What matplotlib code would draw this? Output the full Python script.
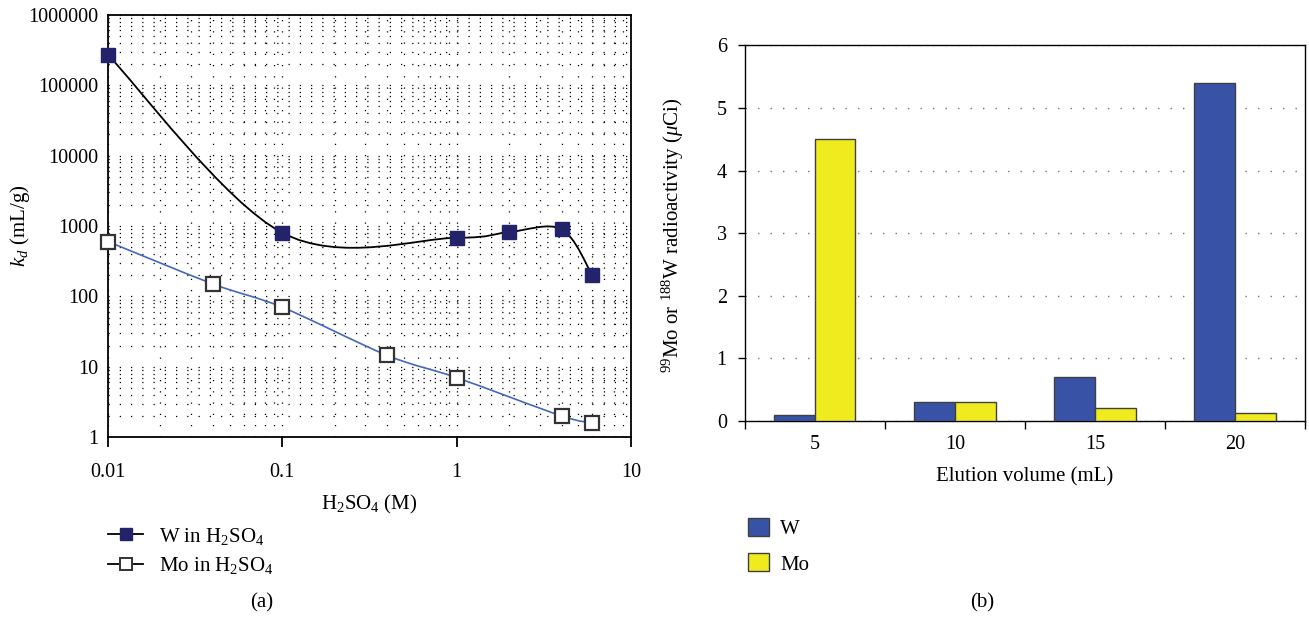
import numpy as np
import matplotlib
matplotlib.use('Agg')
import matplotlib.pyplot as plt
from matplotlib.path import Path
from matplotlib.patches import PathPatch, Patch
from matplotlib.lines import Line2D
from matplotlib.ticker import LogLocator, FixedLocator, FixedFormatter, NullFormatter

plt.rcParams['font.family'] = 'Liberation Serif'
plt.rcParams['mathtext.fontset'] = 'custom'
plt.rcParams['mathtext.rm'] = 'Liberation Serif'
plt.rcParams['mathtext.it'] = 'Liberation Serif:italic'
plt.rcParams['font.size'] = 15

# (a) distribution coefficients
w_acid = [0.01, 0.1, 1, 2, 4, 6]
w_kd = [270000, 800, 680, 820, 900, 200]
mo_acid = [0.01, 0.04, 0.1, 0.4, 1, 4, 6]
mo_kd = [600, 150, 70, 14.5, 7, 2, 1.6]
x_ticks = [0.01, 0.1, 1, 10]
x_labels = ['0.01', '0.1', '1', '10']
y_ticks = [1, 10, 100, 1000, 10000, 100000, 1000000]
y_labels = ['1', '10', '100', '1000', '10000', '100000', '1000000']

# (b) elution
volumes = ['5', '10', '15', '20']
w_act = [0.1, 0.3, 0.7, 5.4]
mo_act = [4.5, 0.3, 0.2, 0.12]

W_MARK = '#23236b'
MO_LINE = '#4466bb'
W_BAR = '#3853a6'
MO_BAR = '#f0eb1e'
TICK_FS = 14.5
LAB_FS = 15


def smooth_path(x, y):
    # excel style smoothed line, bezier control points from neighbours (log-log)
    p = np.column_stack([np.log10(x), np.log10(y)])
    n = len(p)
    verts = [p[0]]
    codes = [Path.MOVETO]
    for i in range(n - 1):
        p0 = p[i - 1] if i > 0 else p[i]
        p3 = p[i + 2] if i + 2 < n else p[i + 1]
        c1 = p[i] + (p[i + 1] - p0) / 6
        c2 = p[i + 1] - (p3 - p[i]) / 6
        verts += [c1, c2, p[i + 1]]
        codes += [Path.CURVE4] * 3
    return Path(10 ** np.array(verts), codes)


fig = plt.figure(figsize=(13.09, 6.2), dpi=100)

# ---- left panel
ax = fig.add_axes([0.0825, 0.295, 0.3995, 0.681])
ax.set_xscale('log')
ax.set_yscale('log')
ax.set_xlim(0.01, 10)
ax.set_ylim(1, 1000000)
ax.add_patch(PathPatch(smooth_path(w_acid, w_kd), fill=False, edgecolor='black', lw=1.3, zorder=3))
ax.add_patch(PathPatch(smooth_path(mo_acid, mo_kd), fill=False, edgecolor=MO_LINE, lw=1.2, zorder=3))
ax.plot(w_acid, w_kd, linestyle='none', marker='s', ms=10.5, mfc=W_MARK, mec=W_MARK, zorder=4, clip_on=False)
ax.plot(mo_acid, mo_kd, linestyle='none', marker='s', ms=10, mfc='white', mec='#333333', mew=1.6,
        zorder=4, clip_on=False)

ax.xaxis.set_major_locator(FixedLocator(x_ticks))
ax.xaxis.set_major_formatter(FixedFormatter(x_labels))
ax.yaxis.set_major_locator(FixedLocator(y_ticks))
ax.yaxis.set_major_formatter(FixedFormatter(y_labels))
ax.xaxis.set_minor_locator(LogLocator(base=10, subs=np.arange(2, 10), numticks=20))
ax.yaxis.set_minor_locator(LogLocator(base=10, subs=np.arange(2, 10), numticks=20))
ax.xaxis.set_minor_formatter(NullFormatter())
ax.yaxis.set_minor_formatter(NullFormatter())
ax.tick_params(axis='x', which='major', direction='out', length=7, width=1.3, pad=12, labelsize=TICK_FS)
ax.tick_params(axis='y', which='major', length=0, pad=7, labelsize=TICK_FS)
ax.tick_params(which='minor', length=0)
ax.grid(True, which='both', color='black', linestyle=(0, (1, 8)), linewidth=0.9)
for s in ax.spines.values():
    s.set_linewidth(1.3)
ax.set_xlabel('H$_2$SO$_4$ (M)', fontsize=LAB_FS)
ax.xaxis.set_label_coords(0.5, -0.133)
ax.set_ylabel('$k_d$ (mL/g)', fontsize=LAB_FS)
ax.yaxis.set_label_coords(-0.145, 0.5)

hl = [Line2D([], [], color='black', lw=1.3, marker='s', ms=8, mfc=W_MARK, mec=W_MARK),
      Line2D([], [], color='black', lw=1.3, marker='s', ms=8, mfc='white', mec='#333333', mew=1.4)]
fig.legend(hl, ['W in H$_2$SO$_4$', 'Mo in H$_2$SO$_4$'], loc='upper left',
           bbox_to_anchor=(0.0825, 0.152), frameon=False, borderpad=0, borderaxespad=0,
           handlelength=1.7, handletextpad=0.75, labelspacing=0.4, fontsize=LAB_FS)
fig.text(262 / 1309, 1 - 603 / 620, '(a)', ha='center', va='center', fontsize=LAB_FS)

# ---- right panel
bx = fig.add_axes([0.569, 0.321, 0.428, 0.606])
pos = np.arange(len(volumes))
bw = 0.29
bx.bar(pos - bw / 2, w_act, bw, color=W_BAR, edgecolor='#404040', lw=1.0, zorder=3)
bx.bar(pos + bw / 2, mo_act, bw, color=MO_BAR, edgecolor='#404040', lw=1.0, zorder=3)
bx.set_xlim(-0.5, len(volumes) - 0.5)
bx.set_ylim(0, 6)
bx.set_yticks(range(7))
bx.set_xticks(np.arange(len(volumes) + 1) - 0.5)
bx.set_xticklabels([''] * (len(volumes) + 1))
bx.set_xticks(pos, minor=True)
bx.set_xticklabels(volumes, minor=True)
bx.tick_params(axis='x', which='major', direction='out', length=6, width=1.0)
bx.tick_params(axis='x', which='minor', length=0, pad=10, labelsize=TICK_FS)
bx.tick_params(axis='y', direction='out', length=5, width=1.0, labelsize=TICK_FS, pad=8)
bx.yaxis.grid(True, color='#777777', linestyle=(0, (1, 8)), linewidth=1.0)
bx.set_axisbelow(True)
for s in bx.spines.values():
    s.set_linewidth(1.0)
bx.set_xlabel('Elution volume (mL)', fontsize=LAB_FS)
bx.xaxis.set_label_coords(0.5, -0.122)
bx.set_ylabel('$^{99}$Mo or $^{188}$W radioactivity ($\\mu$Ci)', fontsize=LAB_FS)
bx.yaxis.set_label_coords(-0.105, 0.495)

hb = [Patch(facecolor=W_BAR, edgecolor='#404040'), Patch(facecolor=MO_BAR, edgecolor='#404040')]
fig.legend(hb, ['W', 'Mo'], loc='upper left', bbox_to_anchor=(0.5714, 0.165), frameon=False,
           borderpad=0, borderaxespad=0, handlelength=1.0, handleheight=0.95,
           handletextpad=0.55, labelspacing=0.7, fontsize=LAB_FS)
fig.text(982 / 1309, 1 - 603 / 620, '(b)', ha='center', va='center', fontsize=LAB_FS)

fig.savefig('out.png', dpi=100)
